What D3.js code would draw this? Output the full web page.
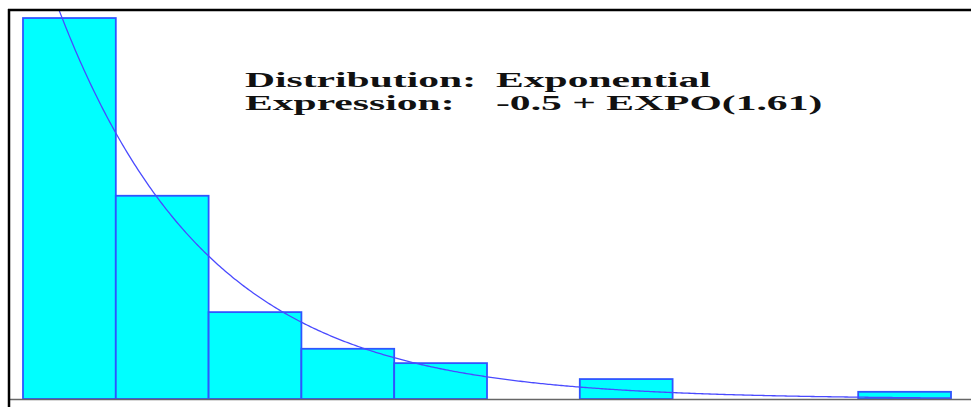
<!DOCTYPE html>
<html>
<head>
<meta charset="utf-8">
<script src="https://cdn.jsdelivr.net/npm/d3@7/dist/d3.min.js"></script>
<style>
  html, body { margin: 0; padding: 0; background: #ffffff; }
  svg { display: block; }
</style>
</head>
<body>
<svg id="chart" width="971" height="407"></svg>
<script>
// Histogram bins (lower edge of each unit-width bin) and relative frequencies
const binStarts = [-0.5, 0.5, 1.5, 2.5, 3.5, 4.5, 5.5, 6.5, 7.5, 8.5];
const binWidth = 1;
const relFreq = [0.478, 0.255, 0.109, 0.063, 0.045, 0, 0.025, 0, 0, 0.009];

// Fitted distribution: offset + EXPO(mean)
const fitOffset = -0.5;
const fitMean = 1.61;

// Summary text block
const labelNames = ["Distribution:", "Expression:"];
const labelValues = ["Exponential", "-0.5 + EXPO(1.61)"];

const svg = d3.select("#chart");
const W = 971, H = 407;

const x = d3.scaleLinear().domain([-0.5, 9.5]).range([23, 951]);
const y = d3.scaleLinear().domain([0, 0.5]).range([399, 0.5]);

// Clip the plot contents to the inside of the frame
svg.append("defs").append("clipPath").attr("id", "plotClip")
  .append("rect").attr("x", 10).attr("y", 11).attr("width", W - 10).attr("height", 389);

const plot = svg.append("g").attr("clip-path", "url(#plotClip)");

// Bars
plot.selectAll("rect.bar")
  .data(binStarts.map((s, i) => ({ s, v: relFreq[i] })).filter(d => d.v > 0))
  .enter().append("rect")
  .attr("class", "bar")
  .attr("x", d => x(d.s))
  .attr("y", d => y(d.v))
  .attr("width", d => x(d.s + binWidth) - x(d.s))
  .attr("height", d => y(0) - y(d.v))
  .attr("fill", "#00ffff")
  .attr("stroke", "#2f55ff")
  .attr("stroke-width", 1.8);

// Fitted density curve (scaled by bin width)
const density = t => (t < fitOffset ? 0 : Math.exp(-(t - fitOffset) / fitMean) / fitMean) * binWidth;
const curvePts = d3.range(0, 501).map(i => {
  const t = -0.5 + i * 10 / 500;
  return [t, density(t)];
});
plot.append("path")
  .datum(curvePts)
  .attr("fill", "none")
  .attr("stroke", "#4a4aff")
  .attr("stroke-width", 1.3)
  .attr("d", d3.line().x(d => x(d[0])).y(d => y(d[1])));

// Baseline
svg.append("line")
  .attr("x1", 9).attr("x2", W)
  .attr("y1", y(0) + 0.5).attr("y2", y(0) + 0.5)
  .attr("stroke", "#666666").attr("stroke-width", 1.5);

// Frame: top and left edges
svg.append("line")
  .attr("x1", 8).attr("x2", W).attr("y1", 10).attr("y2", 10)
  .attr("stroke", "#000000").attr("stroke-width", 2.5);
svg.append("line")
  .attr("x1", 9).attr("x2", 9).attr("y1", 9).attr("y2", H)
  .attr("stroke", "#000000").attr("stroke-width", 2.5);

// Text block (wide serif lettering)
const sx = 2.08;
const txt = svg.append("g")
  .attr("transform", `translate(245,0) scale(${sx},1)`)
  .attr("font-family", "'Liberation Serif', 'Times New Roman', serif")
  .attr("font-weight", "bold")
  .attr("font-size", 20)
  .attr("fill", "#111111");
labelNames.forEach((t, i) => {
  txt.append("text").attr("x", 0).attr("y", 87 + i * 23).text(t);
  txt.append("text").attr("x", (496 - 245) / sx).attr("y", 87 + i * 23).text(labelValues[i]);
});
</script>
</body>
</html>
